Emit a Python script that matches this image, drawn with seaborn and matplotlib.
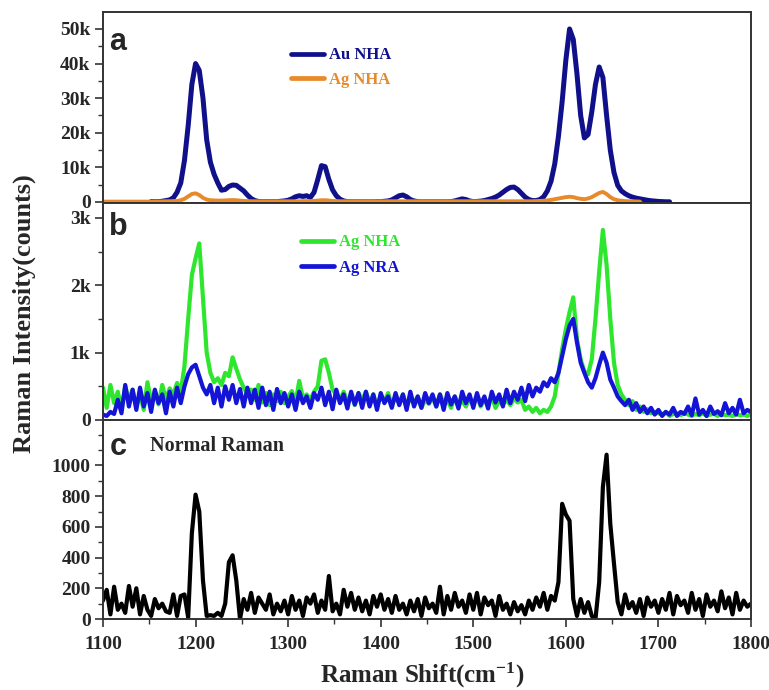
import numpy as np
import pandas as pd
import matplotlib
matplotlib.use("Agg")
import matplotlib.pyplot as plt
import seaborn as sns
from matplotlib.ticker import MultipleLocator, FixedLocator, FuncFormatter
from matplotlib.lines import Line2D

nan = np.nan

# Raman shift grid, 4 cm-1 steps
shift = np.arange(1100, 1801, 4)

# panel a, in thousands of counts
au_nha_a = [
    nan, nan, nan, nan, nan, nan, nan, nan, nan, nan,
    nan, nan, nan, 0.1, 0.1, 0.1, 0.2, 0.4, 0.6, 1.2,
    2.8, 5.5, 12, 22, 34, 40, 38, 30, 18, 11.5,
    8, 5.5, 3.4, 3.6, 4.5, 4.9, 4.8, 4.0, 3.2, 2.0,
    1.0, 0.4, 0.15, 0.1, 0.1, 0.1, 0.1, 0.1, 0.2, 0.3,
    0.5, 0.9, 1.5, 1.8, 1.6, 1.8, 1.3, 2.8, 6.5, 10.5,
    10.2, 6.5, 3.5, 1.8, 0.8, 0.3, 0.1, 0.05, 0.05, 0.05,
    0.05, 0.05, 0.05, 0.05, 0.1, 0.1, 0.2, 0.3, 0.6, 1.2,
    1.8, 2.0, 1.5, 0.7, 0.3, 0.1, 0.05, 0.05, 0.05, 0.05,
    0.05, 0.05, 0.05, 0.05, 0.1, 0.3, 0.6, 0.9, 0.7, 0.3,
    0.1, 0.15, 0.25, 0.4, 0.7, 1.0, 1.4, 2.0, 2.8, 3.6,
    4.2, 4.3, 3.6, 2.5, 1.4, 0.7, 0.4, 0.4, 0.7, 1.5,
    3.2, 6.0, 11, 19, 29, 41, 50, 47, 37, 25,
    18.5, 19.5, 26, 34, 39, 36, 25, 15, 8.5, 4.8,
    3.2, 2.4, 1.8, 1.4, 1.1, 0.9, 0.7, 0.5, 0.35, 0.25,
    0.15, 0.1, 0.05, 0.05, nan, nan, nan, nan, nan, nan,
    nan, nan, nan, nan, nan, nan, nan, nan, nan, nan,
    nan, nan, nan, nan, nan, nan,
]
ag_nha_a = [
    0.1, 0.1, 0.1, 0.1, 0.1, 0.1, 0.1, 0.1, 0.1, 0.1,
    0.1, 0.1, 0.1, 0.1, 0.15, 0.15, 0.15, 0.2, 0.2, 0.25,
    0.3, 0.5, 0.9, 1.6, 2.3, 2.5, 2.0, 1.2, 0.7, 0.5,
    0.45, 0.4, 0.4, 0.45, 0.5, 0.55, 0.5, 0.4, 0.3, 0.25,
    0.2, 0.2, 0.2, 0.2, 0.2, 0.2, 0.2, 0.2, 0.2, 0.2,
    0.2, 0.2, 0.2, 0.2, 0.25, 0.25, 0.25, 0.3, 0.4, 0.5,
    0.5, 0.4, 0.3, 0.25, 0.2, 0.2, 0.2, 0.2, 0.2, 0.2,
    0.2, 0.2, 0.2, 0.2, 0.2, 0.2, 0.2, 0.2, 0.2, 0.2,
    0.2, 0.2, 0.2, 0.2, 0.2, 0.2, 0.2, 0.2, 0.2, 0.2,
    0.2, 0.2, 0.2, 0.2, 0.2, 0.2, 0.2, 0.2, 0.2, 0.2,
    0.2, 0.2, 0.2, 0.2, 0.2, 0.2, 0.2, 0.2, 0.2, 0.2,
    0.2, 0.2, 0.2, 0.2, 0.2, 0.2, 0.2, 0.25, 0.3, 0.35,
    0.45, 0.6, 0.8, 1.0, 1.2, 1.4, 1.5, 1.4, 1.1, 0.9,
    0.8, 1.0, 1.4, 2.0, 2.6, 2.9, 2.3, 1.4, 0.8, 0.5,
    0.35, 0.25, 0.2, 0.2, 0.15, 0.1, nan, nan, nan, nan,
    nan, nan, nan, nan, nan, nan, nan, nan, nan, nan,
    nan, nan, nan, nan, nan, nan, nan, nan, nan, nan,
    nan, nan, nan, nan, nan, nan,
]

# panel b, counts
ag_nha_b = [
    480, 180, 520, 250, 420, 160, 500, 300, 450, 200,
    380, 150, 560, 280, 430, 230, 520, 300, 470, 380,
    550, 420, 800, 1500, 2150, 2400, 2620, 1800, 1000, 700,
    560, 620, 520, 700, 650, 930, 760, 600, 480, 380,
    450, 300, 520, 260, 400, 220, 380, 280, 420, 250,
    350, 430, 260, 580, 320, 380, 300, 420, 500, 880,
    900, 700, 450, 380, 300, 420, 260, 380, 220, 400,
    300, 420, 250, 380, 200, 350, 280, 400, 220, 330,
    260, 380, 200, 320, 250, 350, 180, 300, 240, 330,
    200, 380, 260, 300, 180, 350, 230, 280, 200, 320,
    240, 360, 200, 300, 250, 350, 180, 280, 230, 300,
    220, 320, 260, 300, 150, 200, 120, 180, 100, 150,
    120, 200, 350, 700, 1050, 1350, 1600, 1820, 1200, 900,
    720, 680, 900, 1500, 2200, 2820, 2300, 1500, 850, 520,
    380, 300, 220, 280, 150, 200, 120, 160, 100, 120,
    100, 80, 120, 60, 90, 100, 70, 110, 80, 60,
    90, 70, 100, 60, 80, 90, 60, 100, 70, 80,
    60, 90, 70, 80, 60, 90,
]
ag_nra_b = [
    80, 60, 120, 90, 300, 100, 520, 200, 450, 150,
    480, 200, 400, 120, 450, 250, 380, 100, 420, 200,
    480, 250, 500, 680, 780, 820, 650, 480, 380, 520,
    250, 480, 200, 500, 300, 520, 250, 460, 200, 480,
    250, 450, 180, 480, 220, 420, 150, 460, 250, 400,
    200, 380, 150, 420, 250, 350, 180, 400, 300, 480,
    220, 420, 160, 450, 250, 380, 170, 420, 230, 400,
    180, 420, 200, 380, 150, 400, 250, 350, 180, 400,
    220, 380, 150, 420, 200, 350, 180, 400, 250, 380,
    200, 380, 150, 400, 230, 350, 170, 420, 250, 380,
    180, 400, 220, 350, 170, 420, 260, 380, 200, 450,
    250, 420, 300, 480, 280, 520, 350, 480, 420, 560,
    500, 620, 560, 700, 950, 1200, 1400, 1500, 1150, 850,
    700, 560, 480, 620, 820, 1000, 850, 600, 480, 350,
    280, 220, 300, 150, 250, 120, 200, 100, 180, 80,
    150, 60, 120, 80, 180, 60, 120, 90, 200, 70,
    320, 80, 150, 60, 200, 90, 130, 70, 250, 100,
    180, 80, 300, 100, 150, 120,
]

# panel c, counts
normal_c = [
    120, 190, 30, 210, 60, 100, 40, 215, 80, 200,
    30, 150, 60, 20, 130, 70, 100, 50, 40, 160,
    20, 150, 160, 10, 560, 810, 700, 250, 20, 25,
    20, 40, 20, 100, 370, 415, 250, 0, 130, 60,
    170, 40, 140, 100, 60, 160, 30, 100, 50, 120,
    30, 150, 60, 120, 20, 140, 100, 160, 40, 120,
    60, 280, 50, 100, 30, 190, 80, 170, 60, 140,
    50, 120, 30, 150, 80, 160, 60, 130, 40, 150,
    60, 100, 30, 120, 50, 130, 20, 140, 70, 100,
    40, 210, 30, 150, 60, 170, 80, 120, 40, 160,
    60, 170, 30, 140, 90, 120, 20, 150, 60, 100,
    30, 110, 50, 90, 30, 120, 60, 140, 80, 170,
    60, 150, 120, 240, 750, 680, 640, 130, 20, 130,
    40, 110, 20, 0, 240, 860, 1070, 620, 360, 110,
    30, 160, 70, 110, 40, 130, 20, 140, 80, 120,
    40, 130, 60, 170, 30, 150, 90, 120, 40, 170,
    60, 130, 20, 160, 80, 120, 50, 180, 70, 140,
    30, 170, 60, 120, 80, 100,
]

c_navy = "#10108a"
c_orange = "#e8892a"
c_green = "#2ee62e"
c_blue = "#1414d6"

sns.set_style("ticks")
plt.rcParams["font.family"] = ["Liberation Serif", "DejaVu Serif"]
plt.rcParams["font.weight"] = "bold"
plt.rcParams["mathtext.fontset"] = "custom"
plt.rcParams["mathtext.rm"] = "Liberation Serif:bold"
plt.rcParams["mathtext.bf"] = "Liberation Serif:bold"
plt.rcParams["mathtext.it"] = "Liberation Serif:bold"

fig = plt.figure(figsize=(7.69, 6.9), dpi=100)
L, W = 103 / 769, 648 / 769
ax_a = fig.add_axes([L, 1 - 203 / 690, W, 191 / 690])
ax_b = fig.add_axes([L, 1 - 420 / 690, W, 217 / 690])
ax_c = fig.add_axes([L, 1 - 619 / 690, W, 199 / 690])

df = pd.DataFrame({"shift": shift, "au_a": au_nha_a, "ag_a": ag_nha_a,
                   "ag_b": ag_nha_b, "nra_b": ag_nra_b, "c": normal_c})

kw = dict(estimator=None, sort=False, legend=False)
sns.lineplot(data=df, x="shift", y="au_a", ax=ax_a, color=c_navy, lw=3.6, **kw)
sns.lineplot(data=df, x="shift", y="ag_a", ax=ax_a, color=c_orange, lw=2.8, **kw)
sns.lineplot(data=df, x="shift", y="ag_b", ax=ax_b, color=c_green, lw=3.0, **kw)
sns.lineplot(data=df, x="shift", y="nra_b", ax=ax_b, color=c_blue, lw=3.0, **kw)
sns.lineplot(data=df, x="shift", y="c", ax=ax_c, color="black", lw=3.0, **kw)

ax_a.set_ylim(-0.3, 54.9)
ax_b.set_ylim(0, 3220)
ax_c.set_ylim(0, 1296)

kfmt_a = FuncFormatter(lambda v, p: "0" if v == 0 else f"{v:g}k")
kfmt_b = FuncFormatter(lambda v, p: "0" if v == 0 else f"{v / 1000:g}k")
ax_a.yaxis.set_major_locator(FixedLocator([0, 10, 20, 30, 40, 50]))
ax_a.yaxis.set_minor_locator(MultipleLocator(5))
ax_a.yaxis.set_major_formatter(kfmt_a)
ax_b.yaxis.set_major_locator(FixedLocator([0, 1000, 2000, 3000]))
ax_b.yaxis.set_minor_locator(MultipleLocator(500))
ax_b.yaxis.set_major_formatter(kfmt_b)
ax_c.yaxis.set_major_locator(FixedLocator([0, 200, 400, 600, 800, 1000]))
ax_c.yaxis.set_minor_locator(MultipleLocator(100))

for ax in (ax_a, ax_b, ax_c):
    ax.set_xlim(1100, 1800)
    ax.set_xlabel("")
    ax.set_ylabel("")
    for s in ax.spines.values():
        s.set_visible(True)
        s.set_color("#333333")
        s.set_linewidth(1.4)
    ax.tick_params(axis="y", which="major", direction="out", length=6, width=1.2,
                   labelsize=14, color="#333333", pad=3)
    ax.tick_params(axis="y", which="minor", direction="out", length=3.5, width=1.0,
                   color="#333333")
    for lab in ax.get_yticklabels():
        lab.set_fontweight("bold")

for ax in (ax_a, ax_b):
    ax.tick_params(axis="x", which="both", bottom=False, labelbottom=False)

ax_c.xaxis.set_major_locator(MultipleLocator(100))
ax_c.xaxis.set_minor_locator(MultipleLocator(50))
ax_c.tick_params(axis="x", which="major", direction="out", length=6, width=1.2,
                 labelsize=14, color="#333333", pad=6)
ax_c.tick_params(axis="x", which="minor", direction="out", length=3.5, width=1.0,
                 color="#333333")
for lab in ax_c.get_xticklabels():
    lab.set_fontweight("bold")

# panel letters
for ax, letter, ytop in ((ax_a, "a", 0.92), (ax_b, "b", 0.96), (ax_c, "c", 0.94)):
    ax.text(0.01, ytop, letter, transform=ax.transAxes, ha="left", va="top",
            fontsize=22, fontweight="bold", family=["Liberation Sans", "DejaVu Sans"])

ax_c.text(0.072, 0.87, "Normal Raman", transform=ax_c.transAxes, ha="left",
          va="center", fontsize=14.5, fontweight="bold")

# legends
legend_font = {"family": ["Liberation Serif"], "weight": "bold", "size": 12}
h_a = [Line2D([], [], color=c_navy, lw=3.4), Line2D([], [], color=c_orange, lw=3.4)]
ax_a.legend(h_a, ["Au NHA", "Ag NHA"], loc="upper left", bbox_to_anchor=(0.29, 0.815),
            frameon=False, prop=legend_font, labelcolor="linecolor", handlelength=2.0,
            handletextpad=0.3, labelspacing=0.5, borderaxespad=0, borderpad=0)
h_b = [Line2D([], [], color=c_green, lw=3.4), Line2D([], [], color=c_blue, lw=3.4)]
ax_b.legend(h_b, ["Ag NHA", "Ag NRA"], loc="upper left", bbox_to_anchor=(0.305, 0.855),
            frameon=False, prop=legend_font, labelcolor="linecolor", handlelength=2.0,
            handletextpad=0.3, labelspacing=0.55, borderaxespad=0, borderpad=0)

fig.text(24 / 769, 1 - 314 / 690, "Raman Intensity(counts)", rotation=90,
         ha="center", va="center", fontsize=19, fontweight="bold")
fig.text(422 / 769, 1 - 683 / 690, r"Raman Shift(cm$^{-1}$)", ha="center",
         va="baseline", fontsize=18, fontweight="bold")

fig.savefig("out.png", dpi=100)
